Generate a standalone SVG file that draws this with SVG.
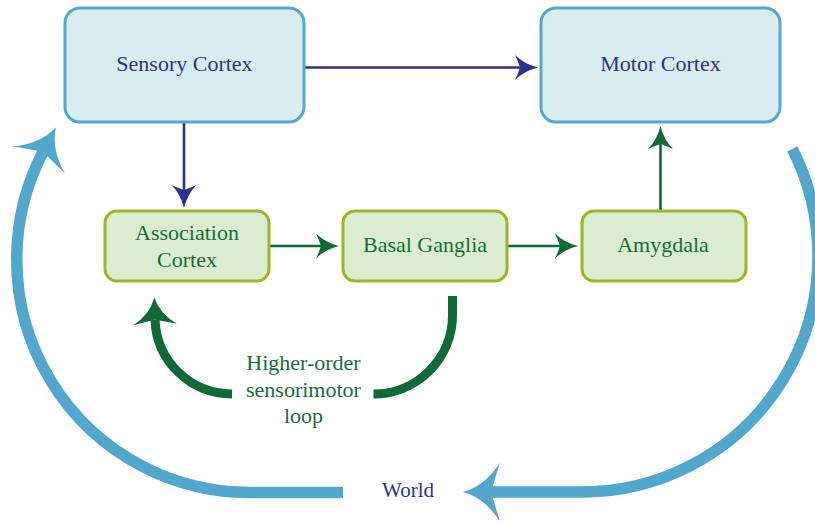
<svg xmlns="http://www.w3.org/2000/svg" width="815" height="522" viewBox="0 0 815 522">
<style>
text{font-family:"Liberation Serif","Times New Roman",serif;font-size:22px;text-anchor:middle}
.bbox{fill:#d9ecf0;stroke:#52a9cd;stroke-width:3}
.gbox{fill:#dcecd0;stroke:#9db629;stroke-width:3}
.btxt{fill:#2e3192}
.gtxt{fill:#176c3c}
.nav{fill:none;stroke:#2e3192;stroke-width:2.6}
.grn{fill:none;stroke:#0f6a37;stroke-width:2.6}
.loop{fill:none;stroke:#0f6a37;stroke-width:9}
.world{fill:none;stroke:#52a8cc;stroke-width:11.5}
</style>
<defs>
<marker id="ahNav" markerUnits="userSpaceOnUse" orient="auto" refX="0" refY="0" markerWidth="40" markerHeight="40" overflow="visible">
<path d="M18,0 Q4,-3.5 -5,-12.5 Q-1.5,-5 0,0 Q-1.5,5 -5,12.5 Q4,3.5 18,0 Z" fill="#2e3192"/>
</marker>
<marker id="ahGrn" markerUnits="userSpaceOnUse" orient="auto" refX="0" refY="0" markerWidth="40" markerHeight="40" overflow="visible">
<path d="M18,0 Q4,-3.5 -5,-12.5 Q-1.5,-5 0,0 Q-1.5,5 -5,12.5 Q4,3.5 18,0 Z" fill="#0f6a37"/>
</marker>
<marker id="ahLoop" markerUnits="userSpaceOnUse" orient="auto" refX="0" refY="0" markerWidth="60" markerHeight="60" overflow="visible">
<path d="M22,0 Q5,-5 -5,-22 Q-2,-8 0,0 Q-2,8 -5,22 Q5,5 22,0 Z" fill="#0f6a37"/>
</marker>
<marker id="ahWorld" markerUnits="userSpaceOnUse" orient="auto" refX="0" refY="0" markerWidth="80" markerHeight="80" overflow="visible">
<path d="M28,0 Q6,-6 -9,-29.5 Q-3,-10 0,0 Q-3,10 -9,29.5 Q6,6 28,0 Z" fill="#52a8cc"/>
</marker>
</defs>

<g id="connectors">
<path class="nav" d="M304,67.5 H520" marker-end="url(#ahNav)"/>
<path class="nav" d="M184,122 V190" marker-end="url(#ahNav)"/>
<path class="grn" d="M269,246 H321" marker-end="url(#ahGrn)"/>
<path class="grn" d="M507,246 H560" marker-end="url(#ahGrn)"/>
<path class="grn" d="M660.5,211 V144" marker-end="url(#ahGrn)"/>
<path class="loop" d="M452.5,296 V315 A79,79 0 0 1 373.5,394"/>
<path class="loop" d="M232,394 A77,77 0 0 1 155,319.5" marker-end="url(#ahLoop)"/>
<path class="world" d="M343,492.5 H250 A233,233 0 0 1 43,152" marker-end="url(#ahWorld)"/>
<path class="world" d="M792.3,148.9 A236,236 0 0 1 582,492 H491" marker-end="url(#ahWorld)"/>
</g>

<g id="sensory-cortex">
<rect class="bbox" x="65" y="8" width="239" height="114" rx="15"/>
<text class="btxt" x="184.5" y="71">Sensory Cortex</text>
</g>
<g id="motor-cortex">
<rect class="bbox" x="541" y="8" width="239" height="114" rx="15"/>
<text class="btxt" x="660.5" y="71">Motor Cortex</text>
</g>
<g id="association-cortex">
<rect class="gbox" x="105" y="211" width="164" height="70" rx="12"/>
<text class="gtxt" x="187" y="240">Association</text>
<text class="gtxt" x="187" y="266.5">Cortex</text>
</g>
<g id="basal-ganglia">
<rect class="gbox" x="343" y="211" width="164" height="70" rx="12"/>
<text class="gtxt" x="425" y="251.5">Basal Ganglia</text>
</g>
<g id="amygdala">
<rect class="gbox" x="582" y="211" width="164" height="70" rx="12"/>
<text class="gtxt" x="663" y="251.5">Amygdala</text>
</g>
<g id="loop-label">
<text class="gtxt" x="303.5" y="370">Higher-order</text>
<text class="gtxt" x="303.5" y="396.5">sensorimotor</text>
<text class="gtxt" x="303.5" y="423">loop</text>
</g>
<g id="world">
<text class="btxt" x="408" y="497" style="font-size:21px">World</text>
</g>
</svg>
